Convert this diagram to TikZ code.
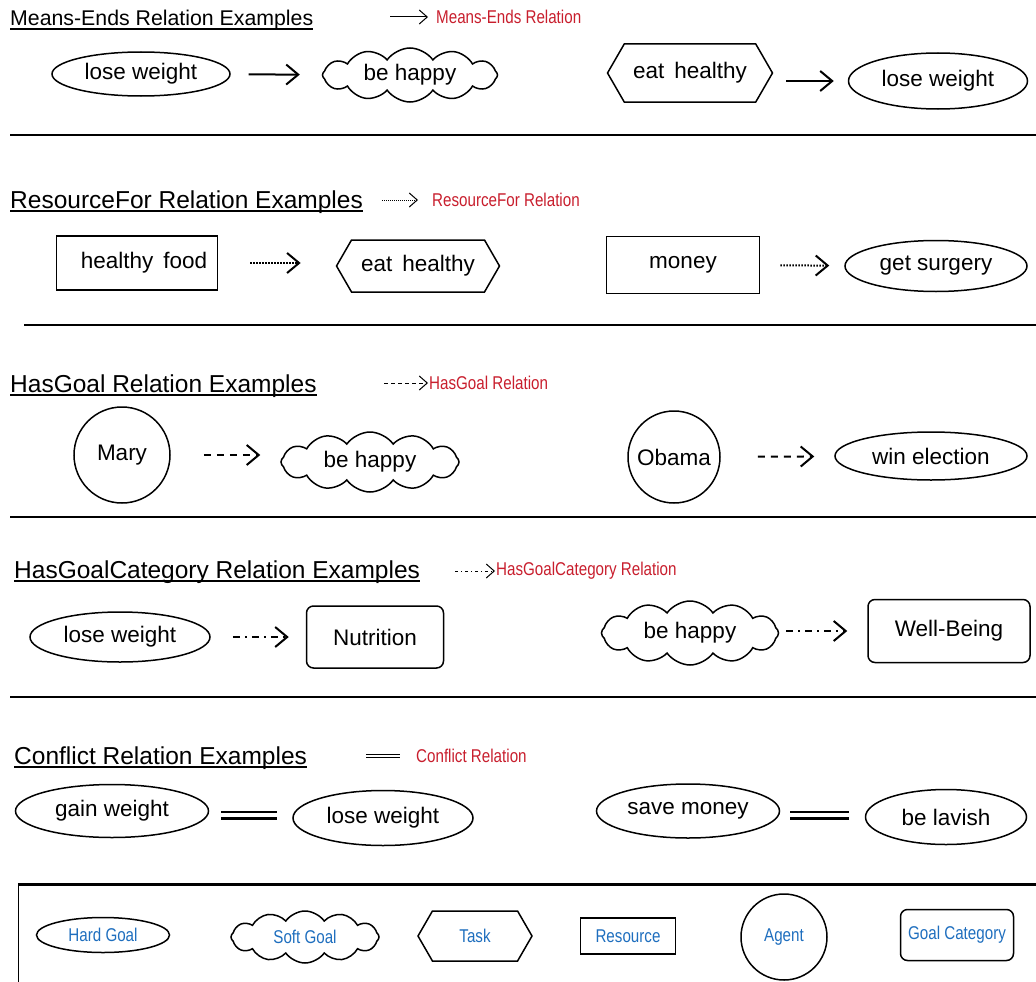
\documentclass[tikz,border=0pt]{standalone}
\usepackage{fontspec}
\setmainfont{Liberation Sans}
\newfontfamily\narrowfont[FakeStretch=0.82]{Liberation Sans}
\usepackage{xcolor}
\usepackage{tikz}
\usetikzlibrary{arrows.meta,positioning,calc,shapes.geometric,shapes.symbols}
\definecolor{keyred}{RGB}{200,30,45}
\definecolor{keyblue}{RGB}{30,110,190}

\begin{document}
\begin{tikzpicture}[x=1pt, y=-1pt,
    every node/.style={font=\fontsize{22.5}{26}\selectfont, inner sep=0pt},
    shp/.style={draw, line width=1.5pt},
    hardgoal/.style={shp, ellipse},
    softgoal/.style={shp, cloud, cloud puffs=12, cloud puff arc=110, cloud ignores aspect},
    task/.style={shp, signal, signal to=west and east, signal pointer angle=120},
    resource/.style={shp, rectangle, line width=1.8pt},
    agent/.style={shp, circle},
    goalcat/.style={shp, rectangle, rounded corners=7pt},
    title/.style={anchor=base west, font=\fontsize{24.5}{28}\selectfont},
    uline/.style={line width=1.5pt},
    keytext/.style={anchor=west, text=keyred, font=\narrowfont\fontsize{18.5}{21}\selectfont},
    legtext/.style={text=keyblue, font=\narrowfont\fontsize{18.5}{21}\selectfont},
    sep/.style={line width=1.8pt},
    meansends/.style={line width=2pt, -{Straight Barb[length=12pt,width=20pt]}},
    resfor/.style={meansends, dash pattern=on 1.5pt off 1.5pt},
    hasgoal/.style={meansends, dash pattern=on 7pt off 6pt},
    hascat/.style={meansends, dash pattern=on 7pt off 5pt on 2pt off 5pt},
    conflict/.style={double, double distance=4pt, line width=2.5pt},
    keyarr/.style={line width=1pt, -{Straight Barb[length=8pt,width=14pt]}},
]
\useasboundingbox (0,0) rectangle (1036,982);

% Means-Ends
\node[title, font=\fontsize{21.3}{25}\selectfont] (t1) at (10,26) {Means-Ends Relation Examples};
\draw[uline] ([yshift=-3pt]t1.base west) -- ([yshift=-3pt]t1.base east);
\coordinate (k1) at (390,17);
\node[keytext] (k1t) at (436,17) {Means-Ends Relation};
\draw[keyarr, shorten >=8pt] (k1) -- (k1t.west);

\node[hardgoal, minimum width=178pt, minimum height=44pt] (lw1) at (141,74) {lose weight};
\node[softgoal, minimum width=175pt, minimum height=54pt] (bh1) at (410,75) {be happy};
\node[task, minimum width=165pt, minimum height=58pt] (eh1) at (690,73) {eat\, healthy};
\node[hardgoal, minimum width=179pt, minimum height=56pt] (lw2) at (938,81) {lose weight};
\draw[meansends, shorten <=18pt, shorten >=22pt] (lw1) -- (bh1);
\draw[meansends, shorten <=13pt, shorten >=14pt] (eh1.east |- lw2.west) -- (lw2.west);
\draw[sep] (10,135) -- (1036,135);

% ResourceFor
\node[title] (t2) at (10,208) {ResourceFor Relation Examples};
\draw[uline] ([yshift=-3pt]t2.base west) -- ([yshift=-3pt]t2.base east);
\coordinate (k2) at (382,200);
\node[keytext] (k2t) at (432,200) {ResourceFor Relation};
\draw[keyarr, dash pattern=on 1pt off 1pt, shorten >=14pt] (k2) -- (k2t.west);

\node[resource, minimum width=161pt, minimum height=54pt] (hf) at (137,263) {\hspace{14pt}healthy\, food};
\node[task, minimum width=163pt, minimum height=52pt] (eh2) at (418,266) {eat\, healthy};
\node[resource, minimum width=153pt, minimum height=57pt] (mon) at (683,265) {money};
\node[hardgoal, minimum width=182pt, minimum height=51pt] (gs) at (936,266) {get surgery};
\draw[resfor, shorten <=32pt, shorten >=35pt] (hf.east) -- (eh2.west |- hf.east);
\draw[resfor, shorten <=20pt, shorten >=15pt] (mon) -- (gs);
\draw[sep] (24,325) -- (1036,325);

% HasGoal
\node[title] (t3) at (10,392) {HasGoal Relation Examples};
\draw[uline] ([yshift=-3pt]t3.base west) -- ([yshift=-3pt]t3.base east);
\coordinate (k3) at (384,383);
\node[keytext] (k3t) at (429,383) {HasGoal Relation};
\draw[keyarr, dash pattern=on 4pt off 3pt, shorten >=1pt] (k3) -- (k3t.west);

\node[agent, minimum size=96pt] (mary) at (122,455) {Mary};
\node[softgoal, minimum width=178pt, minimum height=60pt] (bh2) at (370,462) {be happy};
\node[agent, minimum size=92pt] (oba) at (674,457) {Obama};
\node[hardgoal, minimum width=192pt, minimum height=48pt] (we) at (931,456) {win election};
\draw[hasgoal, shorten <=33pt, shorten >=20pt] (mary.east) -- (bh2.west |- mary.east);
\draw[hasgoal, shorten <=37pt, shorten >=20pt] (oba) -- (we);
\draw[sep] (10,517) -- (1036,517);

% HasGoalCategory
\node[title] (t4) at (14,578) {HasGoalCategory Relation Examples};
\draw[uline] ([yshift=-3pt]t4.base west) -- ([yshift=-3pt]t4.base east);
\coordinate (k4) at (455,571);
\node[keytext] (k4t) at (496,571) {HasGoalCategory Relation};
\draw[keyarr, dash pattern=on 3pt off 3pt on 1pt off 3pt, shorten >=1pt] (k4) -- (k4t.west);

\node[hardgoal, minimum width=180pt, minimum height=50pt] (lw3) at (120,637) {lose weight};
\node[goalcat, minimum width=137pt, minimum height=62pt] (nut) at (375,637) {Nutrition};
\node[softgoal, minimum width=177pt, minimum height=64pt] (bh3) at (690,633) {be happy};
\node[goalcat, minimum width=162pt, minimum height=63pt] (wb) at (949,631) {Well-Being};
\draw[hascat, shorten <=22pt, shorten >=17pt] (lw3) -- (nut);
\draw[hascat, shorten <=7pt, shorten >=20pt] (bh3.east |- wb.west) -- (wb.west);
\draw[sep] (10,697) -- (1036,697);

% Conflict
\node[title] (t5) at (14,764) {Conflict Relation Examples};
\draw[uline] ([yshift=-3pt]t5.base west) -- ([yshift=-3pt]t5.base east);
\coordinate (k5) at (366,756);
\node[keytext] (k5t) at (416,756) {Conflict Relation};
\draw[double, double distance=2.5pt, line width=1pt, shorten >=16pt] (k5) -- (k5t.west);

\node[hardgoal, minimum width=193pt, minimum height=53pt] (gw) at (112,811) {gain weight};
\node[hardgoal, minimum width=180pt, minimum height=55pt] (lw4) at (383,818) {lose weight};
\node[hardgoal, minimum width=183pt, minimum height=54pt] (sm) at (688,811) {save money};
\node[hardgoal, minimum width=161pt, minimum height=55pt] (bl) at (946,817) {be lavish};
\draw[conflict, shorten <=12pt, shorten >=15pt] ([yshift=-4pt]gw.east) -- ([yshift=-4pt]gw.east -| lw4.west);
\draw[conflict, shorten <=10pt, shorten >=16pt] ([yshift=-4pt]sm.east) -- ([yshift=-4pt]sm.east -| bl.west);

% Legend
\draw[line width=3pt] (18,884) -- (1036,884);
\draw[line width=1pt] (18,884) -- (18,982);
\node[hardgoal, legtext, minimum width=133pt, minimum height=35pt] (hg) at (103,935) {Hard Goal};
\node[softgoal, legtext, minimum width=148pt, minimum height=52pt] (sg) at (305,937) {Soft Goal};
\node[task, legtext, minimum width=114pt, minimum height=50pt] (tk) at (475,936) {Task};
\node[resource, legtext, minimum width=95pt, minimum height=36pt] (rs) at (628,936) {Resource};
\node[agent, legtext, minimum size=86pt] (ag) at (784,937) {Agent};
\node[goalcat, legtext, minimum width=113pt, minimum height=51pt] (gc) at (957,935) {Goal Category};

\end{tikzpicture}
\end{document}
